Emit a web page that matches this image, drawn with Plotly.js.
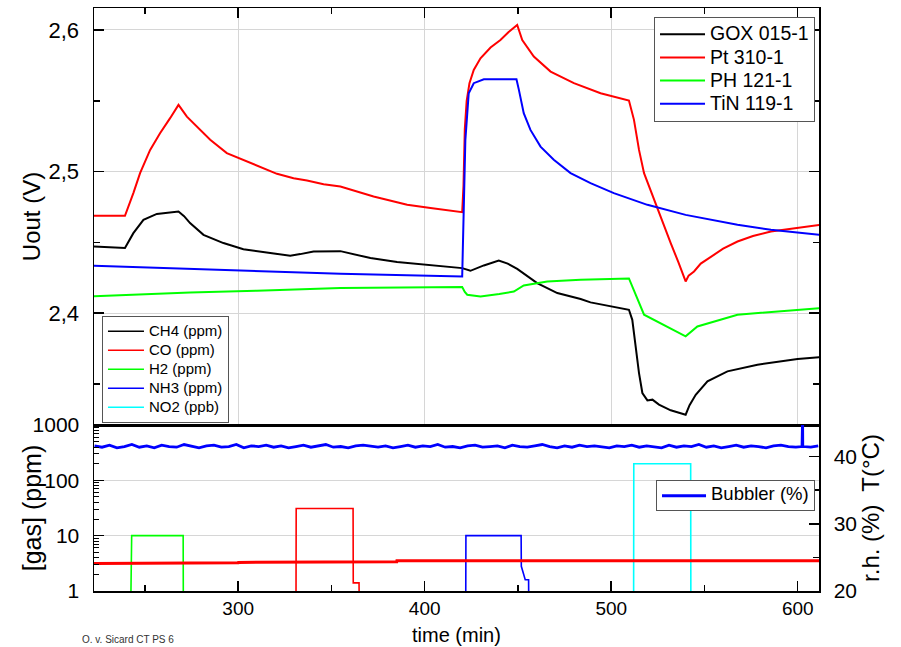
<!DOCTYPE html>
<html>
<head>
<meta charset="utf-8">
<script src="https://cdn.plot.ly/plotly-3.0.1.min.js"></script>
<style>html,body{margin:0;padding:0;background:#fff;}</style>
</head>
<body>
<div id="chart" style="width:901px;height:647px;"></div>
<script>
// ---- Sensor outputs (top panel), time in min, Uout in V ----
const goxTime = [222.7, 239.3, 243.8, 249.2, 256.4, 268, 271, 274.2, 281.4, 292.1, 302.8, 317.2, 327.9, 333.3, 340.4, 354.8, 370.9, 385.2, 403.1, 420.1, 424.5, 431.7, 439.7, 444.5, 449.6, 455, 460.3, 471.1, 483.6, 488.9, 499.7, 509.5, 511.3, 513.1, 514.9, 516.7, 519.4, 522.1, 525.6, 531.9, 539.9, 542, 545.3, 551.6, 562.3, 578.4, 599.9, 612.4];
const goxValue = [2.4470, 2.4460, 2.4565, 2.4659, 2.4701, 2.4718, 2.4685, 2.4636, 2.4553, 2.4495, 2.4452, 2.4424, 2.4405, 2.4417, 2.4436, 2.4438, 2.4389, 2.4361, 2.4337, 2.4318, 2.4299, 2.4337, 2.4372, 2.4350, 2.4313, 2.4262, 2.4212, 2.4142, 2.4100, 2.4076, 2.4047, 2.4024, 2.3953, 2.3765, 2.3577, 2.3436, 2.3384, 2.3389, 2.3354, 2.3314, 2.3283, 2.3350, 2.3424, 2.3518, 2.3589, 2.3636, 2.3676, 2.3690];

const ptTime = [222.7, 239.3, 243.8, 247.4, 252.8, 258.1, 263.5, 268, 272.5, 277.8, 285, 293.9, 300.2, 310, 320.8, 329.7, 336.9, 345.8, 354.8, 372.6, 390.6, 403.1, 420.1, 420.8, 421.5, 422.5, 424, 426.3, 429.9, 435.3, 440.6, 445, 449.6, 452.3, 458.5, 467.5, 480, 494.3, 509.5, 512.2, 514.9, 517.6, 520.3, 525.6, 531.9, 536, 539.9, 541.5, 544.4, 548, 553.4, 560, 567.7, 576, 585.6, 599.9, 612.4];
const ptValue = [2.4687, 2.4687, 2.4848, 2.4989, 2.5153, 2.5271, 2.5377, 2.5471, 2.5388, 2.5318, 2.5224, 2.5130, 2.5095, 2.5040, 2.4984, 2.4953, 2.4937, 2.4911, 2.4894, 2.4824, 2.4765, 2.4742, 2.4713, 2.4900, 2.5300, 2.5500, 2.5624, 2.5718, 2.5800, 2.5876, 2.5929, 2.5985, 2.6035, 2.5929, 2.5812, 2.5706, 2.5624, 2.5553, 2.5501, 2.5365, 2.5153, 2.4989, 2.4894, 2.4706, 2.4495, 2.4360, 2.4224, 2.4265, 2.4294, 2.4350, 2.4400, 2.4455, 2.4506, 2.4545, 2.4577, 2.4600, 2.4624];

const phTime = [222.7, 274.2, 310, 354.8, 420.1, 421.5, 422.8, 429.9, 440, 447.8, 453.1, 465.7, 483.6, 509.5, 517.6, 539.9, 546.2, 567.7, 612.4];
const phValue = [2.4120, 2.4146, 2.4158, 2.4177, 2.4184, 2.4150, 2.4130, 2.4118, 2.4135, 2.4153, 2.4196, 2.4224, 2.4236, 2.4245, 2.3989, 2.3836, 2.3906, 2.3989, 2.4036];

const tinTime = [222.7, 274.2, 310, 354.8, 420.1, 421, 421.8, 423.6, 426.3, 431.7, 449.2, 450.5, 453.1, 456.7, 462.1, 469.2, 478.2, 488.9, 501.4, 519.4, 539.9, 567.7, 585.6, 612.4];
const tinValue = [2.4334, 2.4313, 2.4294, 2.4278, 2.4259, 2.4753, 2.5224, 2.5553, 2.5624, 2.5652, 2.5652, 2.5577, 2.5412, 2.5294, 2.5176, 2.5083, 2.4989, 2.4918, 2.4848, 2.4765, 2.4694, 2.4624, 2.4589, 2.4553];

// ---- Gas concentrations (bottom panel, log axis) ----
const ch4Time = [222.7, 612.4];
const ch4Value = [0.5, 0.5];
const coTime = [222.7, 331, 331.1, 361.6, 361.7, 364.8, 364.9, 612.4];
const coValue = [0.5, 0.5, 31, 31, 1.4, 1.4, 0.5, 0.5];
const h2Time = [222.7, 242.4, 242.9, 270.5, 270.6, 612.4];
const h2Value = [0.5, 0.5, 10, 10, 0.5, 0.5];
const nh3Time = [222.7, 422, 422.1, 451.7, 451.8, 453.9, 455.7, 455.8, 612.4];
const nh3Value = [0.5, 0.5, 10, 10, 2.8, 1.6, 1.6, 0.5, 0.5];
const no2Time = [222.7, 512, 512.1, 542.6, 542.7, 612.4];
const no2Value = [0.5, 0.5, 200, 200, 0.5, 0.5];

// ---- Right axis: temperature (°C) and bubbler r.h. (%) ----
const tempTime = [222.7, 242.5, 242.6, 300, 300.1, 335, 335.1, 385, 385.1, 612.4];
const tempValue = [24.1, 24.1, 24.2, 24.2, 24.25, 24.25, 24.35, 24.35, 24.5, 24.5];

const bubblerTime = [223, 227, 231, 235, 239, 243, 247, 251, 255, 259, 263, 267, 271, 275, 279, 283, 287, 291, 295, 299, 303, 307, 311, 315, 319, 323, 327, 331, 335, 339, 343, 347, 351, 355, 359, 363, 367, 371, 375, 379, 383, 387, 391, 395, 399, 403, 407, 411, 415, 419, 423, 427, 431, 435, 439, 443, 447, 451, 455, 459, 463, 467, 471, 475, 479, 483, 487, 491, 495, 499, 503, 507, 511, 515, 519, 523, 527, 531, 535, 539, 543, 547, 551, 555, 559, 563, 567, 571, 575, 579, 583, 587, 591, 595, 599, 602.3, 602.4, 602.6, 602.7, 603, 607, 611];
const bubblerValue = [41.6, 41.4, 41.7, 41.3, 41.5, 41.8, 41.4, 41.6, 41.3, 41.7, 41.5, 41.4, 41.8, 41.5, 41.3, 41.6, 41.7, 41.4, 41.5, 41.8, 41.3, 41.6, 41.5, 41.7, 41.4, 41.6, 41.3, 41.5, 41.7, 41.4, 41.6, 41.8, 41.4, 41.5, 41.3, 41.6, 41.7, 41.5, 41.4, 41.6, 41.3, 41.5, 41.7, 41.4, 41.6, 41.5, 41.8, 41.4, 41.5, 41.3, 41.6, 41.7, 41.4, 41.5, 41.6, 41.3, 41.7, 41.5, 41.4, 41.6, 41.8, 41.5, 41.3, 41.6, 41.4, 41.7, 41.5, 41.6, 41.4, 41.3, 41.6, 41.5, 41.7, 41.4, 41.6, 41.5, 41.3, 41.7, 41.4, 41.6, 41.5, 41.8, 41.4, 41.6, 41.3, 41.5, 41.7, 41.4, 41.6, 41.5, 41.3, 41.6, 41.7, 41.5, 41.4, 41.5, 46, 46, 41.6, 41.5, 41.4, 41.6];

// ---- Axis tick positions ----
const logMinorTicks = [2, 3, 4, 5, 6, 7, 8, 9, 20, 30, 40, 50, 60, 70, 80, 90, 200, 300, 400, 500, 600, 700, 800, 900];
const xRange = [222.7, 611.4];

const FONT = '"Liberation Sans", Arial, Helvetica, sans-serif';
const bigText = s => '<span style="font-size:19.5px">' + s + '</span>';
const midText = s => '<span style="font-size:15px">' + s + '</span>';

function sensorTrace(name, x, y, color) {
  return {x: x, y: y, name: bigText(name), type: 'scatter', mode: 'lines', xaxis: 'x', yaxis: 'y',
          line: {color: color, width: 2}, legend: 'legend', hoverinfo: 'skip'};
}
function gasTrace(name, x, y, color) {
  return {x: x, y: y, name: midText(name), type: 'scatter', mode: 'lines', xaxis: 'x2', yaxis: 'y2',
          line: {color: color, width: 1.6}, legend: 'legend2', hoverinfo: 'skip'};
}

const traces = [
  sensorTrace('GOX 015-1', goxTime, goxValue, '#000000'),
  sensorTrace('Pt 310-1', ptTime, ptValue, '#ff0000'),
  sensorTrace('PH 121-1', phTime, phValue, '#00ff00'),
  sensorTrace('TiN 119-1', tinTime, tinValue, '#0000ff'),
  gasTrace('CH4 (ppm)', ch4Time, ch4Value, '#000000'),
  gasTrace('CO (ppm)', coTime, coValue, '#ff0000'),
  gasTrace('H2 (ppm)', h2Time, h2Value, '#00ff00'),
  gasTrace('NH3 (ppm)', nh3Time, nh3Value, '#0000ff'),
  gasTrace('NO2 (ppb)', no2Time, no2Value, '#00ffff'),
  {x: tempTime, y: tempValue, name: 'T', type: 'scatter', mode: 'lines', xaxis: 'x2', yaxis: 'y3',
   line: {color: '#ff0000', width: 3}, showlegend: false, hoverinfo: 'skip'},
  {x: bubblerTime, y: bubblerValue, name: '<span style="font-size:18.5px">Bubbler (%)</span>', type: 'scatter', mode: 'lines', xaxis: 'x2', yaxis: 'y3',
   line: {color: '#0000ff', width: 2.8}, legend: 'legend3', hoverinfo: 'skip'}
];

const axisCommon = {
  showline: true, linecolor: '#000', linewidth: 1.5,
  ticks: 'inside', ticklen: 10, tickwidth: 1.5, tickcolor: '#000',
  zeroline: false, gridcolor: '#d6d6d6', gridwidth: 1,
  tickfont: {family: FONT, size: 20, color: '#000'}
};

const layout = {
  width: 901, height: 647,
  margin: {l: 94, r: 82, t: 8, b: 56, pad: 0},
  paper_bgcolor: '#fff', plot_bgcolor: '#fff',
  font: {family: FONT, color: '#000'},
  separators: ',.',
  showlegend: true,
  xaxis: Object.assign({}, axisCommon, {
    domain: [0, 1], anchor: 'y', side: 'top', range: xRange,
    showticklabels: false, dtick: 100, tick0: 0, mirror: true, showgrid: true,
    minor: {dtick: 50, ticks: 'inside', ticklen: 6, tickwidth: 1.5, tickcolor: '#000', showgrid: false}
  }),
  xaxis2: Object.assign({}, axisCommon, {
    anchor: 'y2', range: xRange, dtick: 100, tick0: 0, mirror: true, showgrid: false,
    ticklabelstandoff: 0, tickfont: {family: FONT, size: 19, color: '#000'},
    minor: {dtick: 50, ticks: 'inside', ticklen: 6, tickwidth: 1.5, tickcolor: '#000', showgrid: false}
  }),
  yaxis: Object.assign({}, axisCommon, {
    domain: [0.2847, 1], anchor: 'x', range: [2.321, 2.6155], dtick: 0.1, tick0: 2.4,
    tickformat: '.1f', mirror: 'ticks', showgrid: true,
    tickfont: {family: FONT, size: 22, color: '#000'}, ticklabelstandoff: 9,
    minor: {dtick: 0.05, ticks: 'inside', ticklen: 6, tickwidth: 1.5, tickcolor: '#000', showgrid: false},
    title: {text: 'Uout (V)', font: {family: FONT, size: 24}, standoff: 1}
  }),
  yaxis2: Object.assign({}, axisCommon, {
    domain: [0, 0.2847], anchor: 'x2', type: 'log', range: [0, 3], dtick: 1,
    showgrid: true, mirror: false,
    tickfont: {family: FONT, size: 21, color: '#000'}, ticklabelstandoff: 9,
    minor: {tickmode: 'array', tickvals: logMinorTicks, ticks: 'inside', ticklen: 5, tickwidth: 1, tickcolor: '#000', showgrid: false}
  }),
  yaxis3: Object.assign({}, axisCommon, {
    overlaying: 'y2', anchor: 'x2', side: 'right', range: [20, 44.7], dtick: 10, tick0: 0,
    showgrid: false, ticklabelstandoff: 9,
    tickfont: {family: FONT, size: 21, color: '#000'},
    minor: {dtick: 5, ticks: 'inside', ticklen: 6, tickwidth: 1.5, tickcolor: '#000', showgrid: false},
    title: {text: 'r.h. (%)  T(°C)', font: {family: FONT, size: 24}, standoff: 6}
  }),
  legend: {
    x: 0.9945, xanchor: 'right', y: 0.985, yanchor: 'top',
    bgcolor: '#fff', bordercolor: '#555', borderwidth: 1,
    font: {family: FONT, size: 15.5, color: '#000'}, itemwidth: 45, tracegroupgap: 0
  },
  legend2: {
    x: 0.011, xanchor: 'left', y: 0.472, yanchor: 'top',
    bgcolor: '#fff', bordercolor: '#555', borderwidth: 1,
    font: {family: FONT, size: 12, color: '#000'}, itemwidth: 36, tracegroupgap: 0
  },
  legend3: {
    x: 0.9945, xanchor: 'right', y: 0.19, yanchor: 'top',
    bgcolor: '#fff', bordercolor: '#555', borderwidth: 1,
    font: {family: FONT, size: 12, color: '#000'}, itemwidth: 44
  },
  annotations: [
    {text: 'time (min)', xref: 'paper', yref: 'paper', x: 0.5, y: -0.096,
     xanchor: 'center', yanchor: 'bottom', showarrow: false, borderpad: 0,
     font: {family: FONT, size: 20, color: '#000'}},
    {text: '[gas] (ppm)', xref: 'paper', yref: 'paper', x: -0.0855, y: 0.142,
     xanchor: 'center', yanchor: 'middle', textangle: -90, showarrow: false,
     font: {family: FONT, size: 25, color: '#000'}},
    {text: 'O. v. Sicard CT PS 6', xref: 'paper', yref: 'paper', x: -0.0193, y: -0.083,
     xanchor: 'left', yanchor: 'middle', showarrow: false,
     font: {family: FONT, size: 10, color: '#333'}}
  ]
};

Plotly.newPlot('chart', traces, layout, {staticPlot: true, displayModeBar: false});
</script>
</body>
</html>
